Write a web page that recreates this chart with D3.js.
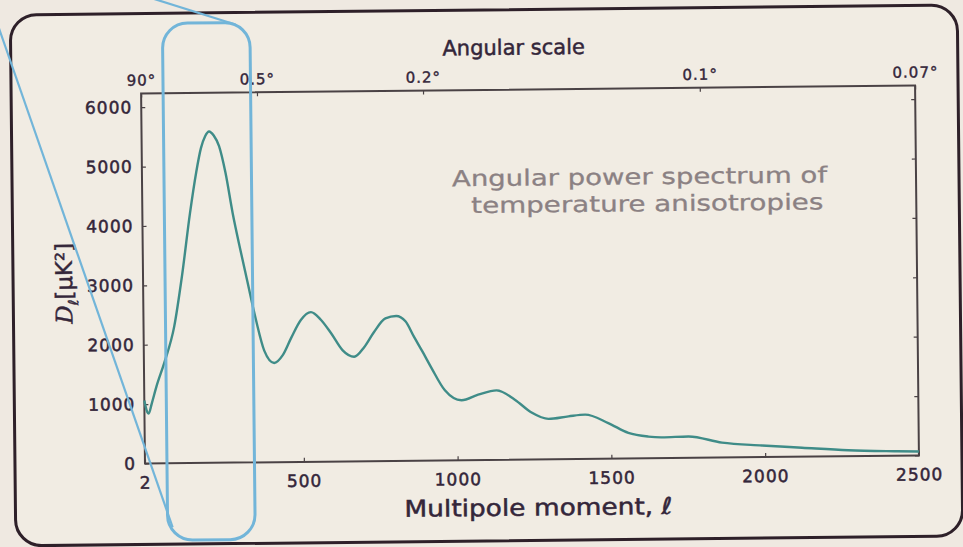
<!DOCTYPE html>
<html>
<head>
<meta charset="utf-8">
<script src="https://cdn.jsdelivr.net/npm/d3@7"></script>
<style>
  html, body { margin: 0; padding: 0; background: #efe9e0; }
  svg { display: block; }
</style>
</head>
<body>
<svg id="chart" width="963" height="547"></svg>
<script>
// CMB temperature angular power spectrum, D_ell in uK^2 against multipole ell
const multipole = [2, 7, 12, 19, 31, 50, 83, 110, 138, 160, 176, 190, 203, 218, 235, 255, 277, 300, 322, 349,
  375, 407, 435, 463, 495, 528, 560, 593, 630, 667, 700, 732, 770, 805, 835, 863, 890, 917, 961, 1015,
  1069, 1129, 1188, 1242, 1297, 1362, 1416, 1491, 1556, 1621, 1665, 1751, 1860, 1990, 2120, 2270, 2420, 2500];
const powerDl = [1060, 900, 840, 1000, 1300, 1700, 2300, 3150, 4200, 4900, 5300, 5500, 5580, 5510, 5330, 4880, 4200, 3600, 3060, 2400,
  1880, 1670, 1800, 2090, 2390, 2520, 2390, 2160, 1870, 1760, 1920, 2170, 2400, 2440, 2350, 2080, 1830, 1570, 1180, 1010,
  1100, 1170, 1010, 790, 680, 720, 745, 600, 430, 365, 350, 360, 250, 195, 150, 100, 75, 65];

const xTickValues = [2, 500, 1000, 1500, 2000, 2500];
const yTickValues = [0, 1000, 2000, 3000, 4000, 5000, 6000];
const angleTickEll = [2, 360, 900, 1800, 2500];
const angleTickLabels = ["90°", "0.5°", "0.2°", "0.1°", "0.07°"];
const noteLines = ["Angular power spectrum of", "temperature anisotropies"];

const svg = d3.select("#chart");
const W = 963, H = 547;

svg.append("rect").attr("width", W).attr("height", H).attr("fill", "#efe9e1");

// the whole slide sits slightly askew
const slide = svg.append("g").attr("transform", "rotate(-0.6, 481, 273)");

// slide panel
slide.append("rect")
  .attr("x", 13).attr("y", 10).attr("width", 947).attr("height", 531)
  .attr("rx", 26).attr("ry", 26)
  .attr("fill", "#f1ece3").attr("stroke", "#2e2029").attr("stroke-width", 3);

const plot = { left: 143, right: 917, top: 90, bottom: 460 };

// stretched low-ell segment, linear above ell = 50
const x = d3.scaleLinear().domain([2, 50, 2500]).range([plot.left, 163.5, plot.right]);
const y = d3.scaleLinear().domain([0, 6230]).range([plot.bottom, plot.top]);

const inkText = "#34263a";
const frameInk = "#4a4245";

// frame
slide.append("rect")
  .attr("x", plot.left).attr("y", plot.top)
  .attr("width", plot.right - plot.left).attr("height", plot.bottom - plot.top)
  .attr("fill", "none").attr("stroke", frameInk).attr("stroke-width", 2);

function styleAxis(g, size, weight) {
  g.select(".domain").remove();
  g.selectAll(".tick line").attr("stroke", frameInk).attr("stroke-width", 1.2);
  g.selectAll(".tick text")
    .attr("fill", inkText)
    .attr("stroke", inkText)
    .attr("stroke-width", weight)
    .style("font-family", "'DejaVu Sans', sans-serif")
    .style("font-size", size + "px")
    .style("letter-spacing", "1px");
}

// left axis
slide.append("g")
  .attr("transform", `translate(${plot.left},0)`)
  .call(d3.axisLeft(y).tickValues(yTickValues).tickSize(-4).tickPadding(9).tickFormat(d3.format("d")))
  .call(g => styleAxis(g, 17, 0.5));

// right-side tick marks
slide.append("g")
  .attr("transform", `translate(${plot.right},0)`)
  .call(d3.axisRight(y).tickValues(yTickValues).tickSize(-4).tickFormat(""))
  .call(g => styleAxis(g, 17, 0));

// bottom axis
slide.append("g")
  .attr("transform", `translate(0,${plot.bottom})`)
  .call(d3.axisBottom(x).tickValues(xTickValues).tickSize(-4).tickPadding(13).tickFormat(d3.format("d")))
  .call(g => styleAxis(g, 17, 0.5));

// top axis: angular scale
slide.append("g")
  .attr("transform", `translate(0,${plot.top})`)
  .call(d3.axisTop(x).tickValues(angleTickEll).tickSize(-4).tickPadding(8)
    .tickFormat((d, i) => angleTickLabels[i]))
  .call(g => styleAxis(g, 15, 0.4));

// axis titles
slide.append("text")
  .attr("x", 516).attr("y", 55)
  .attr("text-anchor", "middle")
  .attr("fill", inkText).attr("stroke", inkText).attr("stroke-width", 0.5)
  .style("font-family", "'DejaVu Sans', sans-serif")
  .style("font-size", "21px")
  .text("Angular scale");

slide.append("text")
  .attr("x", 536).attr("y", 516)
  .attr("text-anchor", "middle")
  .attr("textLength", 268).attr("lengthAdjust", "spacingAndGlyphs")
  .attr("fill", inkText).attr("stroke", inkText).attr("stroke-width", 0.5)
  .style("font-family", "'DejaVu Sans', sans-serif")
  .style("font-size", "23px")
  .text("Multipole moment, ℓ");

const ylab = slide.append("text")
  .attr("transform", "translate(72,279) rotate(-90)")
  .attr("text-anchor", "middle")
  .attr("fill", inkText).attr("stroke", inkText).attr("stroke-width", 0.4)
  .style("font-family", "'DejaVu Sans', sans-serif")
  .style("font-size", "23px");
ylab.append("tspan").style("font-family", "'DejaVu Serif', serif").style("font-style", "italic").text("D");
ylab.append("tspan").attr("dy", 6).style("font-size", "14px").text("ℓ");
ylab.append("tspan").attr("dy", -6).text("[μK²]");

// note inside the plot
slide.selectAll("text.note")
  .data(noteLines)
  .join("text")
  .attr("class", "note")
  .attr("x", (d, i) => i === 0 ? 453 : 472)
  .attr("y", (d, i) => i === 0 ? 186 : 213)
  .attr("textLength", (d, i) => i === 0 ? 375 : 352)
  .attr("lengthAdjust", "spacingAndGlyphs")
  .attr("fill", "#8b8183").attr("stroke", "#8b8183").attr("stroke-width", 0.3)
  .style("font-family", "'DejaVu Sans', sans-serif")
  .style("font-size", "22px")
  .text(d => d);

// spectrum curve
const spectrum = multipole.map((l, i) => [l, powerDl[i]]);
slide.append("path")
  .datum(spectrum)
  .attr("fill", "none")
  .attr("stroke", "#3f8c88")
  .attr("stroke-width", 2.4)
  .attr("stroke-linejoin", "round")
  .attr("d", d3.line().x(d => x(d[0])).y(d => y(d[1])).curve(d3.curveMonotoneX));

// highlight callout around the first acoustic peak
const callout = slide.append("g").attr("fill", "none").attr("stroke", "#72b5d9");
callout.append("rect")
  .attr("x", 165).attr("y", 20).attr("width", 87.5).attr("height", 517)
  .attr("rx", 25).attr("ry", 25)
  .attr("stroke-width", 3);
callout.append("line")
  .attr("x1", -13).attr("y1", -20).attr("x2", 170).attr("y2", 524)
  .attr("stroke-width", 2.2);
callout.append("line")
  .attr("x1", 140).attr("y1", -10).attr("x2", 238).attr("y2", 22)
  .attr("stroke-width", 2.2);
</script>
</body>
</html>
